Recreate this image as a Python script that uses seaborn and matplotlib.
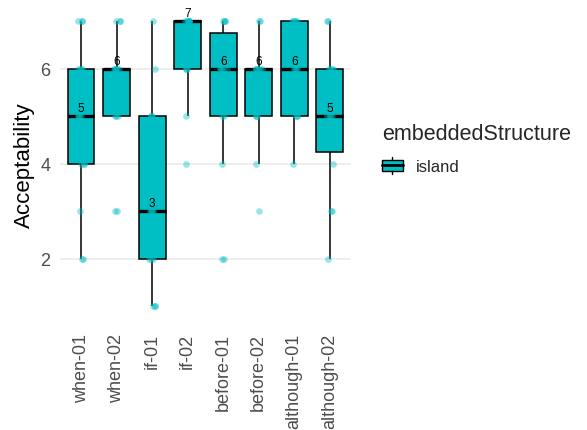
import numpy as np
import pandas as pd
import seaborn as sns
import matplotlib
matplotlib.use("Agg")
import matplotlib.pyplot as plt
from matplotlib.legend_handler import HandlerBase
from matplotlib.patches import Rectangle
from matplotlib.lines import Line2D

# Ratings per item (7-point scale)
items = ["when-01", "when-02", "if-01", "if-02",
         "before-01", "before-02", "although-01", "although-02"]
when_01 = [2, 2, 3, 4, 4, 4, 5, 5, 5, 5, 6, 6, 6, 6, 7, 7, 7]
when_02 = [3, 3, 5, 5, 5, 6, 6, 6, 6, 6, 6, 7, 7, 7]
if_01 = [1, 1, 1, 2, 2, 2, 3, 3, 3, 3, 4, 5, 5, 5, 6, 7]
if_02 = [4, 5, 6, 6, 6, 7, 7, 7, 7, 7, 7, 7, 7]
before_01 = [2, 2, 4, 5, 5, 6, 6, 6, 6, 6, 7, 7, 7, 7]
before_02 = [3, 4, 5, 5, 5, 6, 6, 6, 6, 6, 6, 7, 7]
although_01 = [4, 5, 5, 5, 6, 6, 6, 6, 7, 7, 7, 7, 7]
although_02 = [2, 3, 3, 4, 5, 5, 5, 5, 6, 6, 6, 6, 7, 7]
ratings = [when_01, when_02, if_01, if_02,
           before_01, before_02, although_01, although_02]
structure = "island"

FILL = "#00BFC4"

df = pd.DataFrame({
    "item": np.repeat(items, [len(r) for r in ratings]),
    "Acceptability": np.concatenate(ratings),
    "embeddedStructure": structure,
})

sns.set_style("white")
plt.rcParams["font.family"] = ["Liberation Sans", "DejaVu Sans"]

fig = plt.figure(figsize=(5.87, 4.31), dpi=100)
ax = fig.add_axes([0.102, 0.2535, 0.496, 0.7285])

sns.boxplot(data=df, x="item", y="Acceptability", hue="embeddedStructure",
            order=items, palette={structure: FILL}, saturation=1, width=0.75,
            showfliers=False, showcaps=False, linecolor="black", linewidth=1.1,
            medianprops={"linewidth": 2.4, "color": "black"},
            legend=False, ax=ax)

np.random.seed(3)
sns.stripplot(data=df, x="item", y="Acceptability", order=items,
              color=FILL, alpha=0.4, size=4.8, jitter=0.1,
              linewidth=0, zorder=3, ax=ax)

# Median labels
for i, r in enumerate(ratings):
    med = np.median(r)
    ax.annotate(f"{med:g}", (i, med), xytext=(0, 1.5), textcoords="offset points",
                ha="center", va="bottom", fontsize=8.5, color="black", zorder=4)

ax.set_xlim(-0.6, len(items) - 0.4)
ax.set_ylim(0.7, 7.3)
ax.set_yticks([2, 4, 6])
ax.grid(axis="y", color="#EBEBEB", linewidth=1.2)
ax.grid(axis="x", visible=False)
ax.set_axisbelow(True)
for s in ax.spines.values():
    s.set_visible(False)

ax.tick_params(axis="x", length=0, pad=9, labelsize=13, labelcolor="#4D4D4D",
               labelrotation=90)
ax.tick_params(axis="y", length=0, pad=7, labelsize=13, labelcolor="#4D4D4D")
for lab in ax.get_xticklabels():
    lab.set_va("top")
    lab.set_ha("center")
ax.set_xlabel("")
ax.set_ylabel("Acceptability", fontsize=16, color="black", labelpad=4)


class BoxKey(HandlerBase):
    def create_artists(self, legend, orig_handle, xdescent, ydescent,
                       width, height, fontsize, trans):
        x0, y0 = -xdescent, -ydescent
        cx = x0 + width / 2
        rect = Rectangle((x0, y0 + 0.2 * height), width, 0.6 * height,
                         facecolor=FILL, edgecolor="black", lw=1.0, transform=trans)
        med = Line2D([x0, x0 + width], [y0 + height / 2] * 2, color="black",
                     lw=2.0, transform=trans)
        w1 = Line2D([cx, cx], [y0, y0 + 0.2 * height], color="black", lw=1.0,
                    transform=trans)
        w2 = Line2D([cx, cx], [y0 + 0.8 * height, y0 + height], color="black",
                    lw=1.0, transform=trans)
        return [rect, w1, w2, med]


handle = Rectangle((0, 0), 1, 1)
leg = fig.legend([handle], [structure], title="embeddedStructure",
                 handler_map={Rectangle: BoxKey()},
                 loc="upper left", bbox_to_anchor=(0.645, 0.72),
                 frameon=False, fontsize=12, title_fontsize=15.5,
                 handlelength=1.25, handleheight=1.25, handletextpad=0.8,
                 borderaxespad=0, borderpad=0.2, alignment="left")
leg._legend_box.sep = 9

fig.savefig("out.png", dpi=100)
